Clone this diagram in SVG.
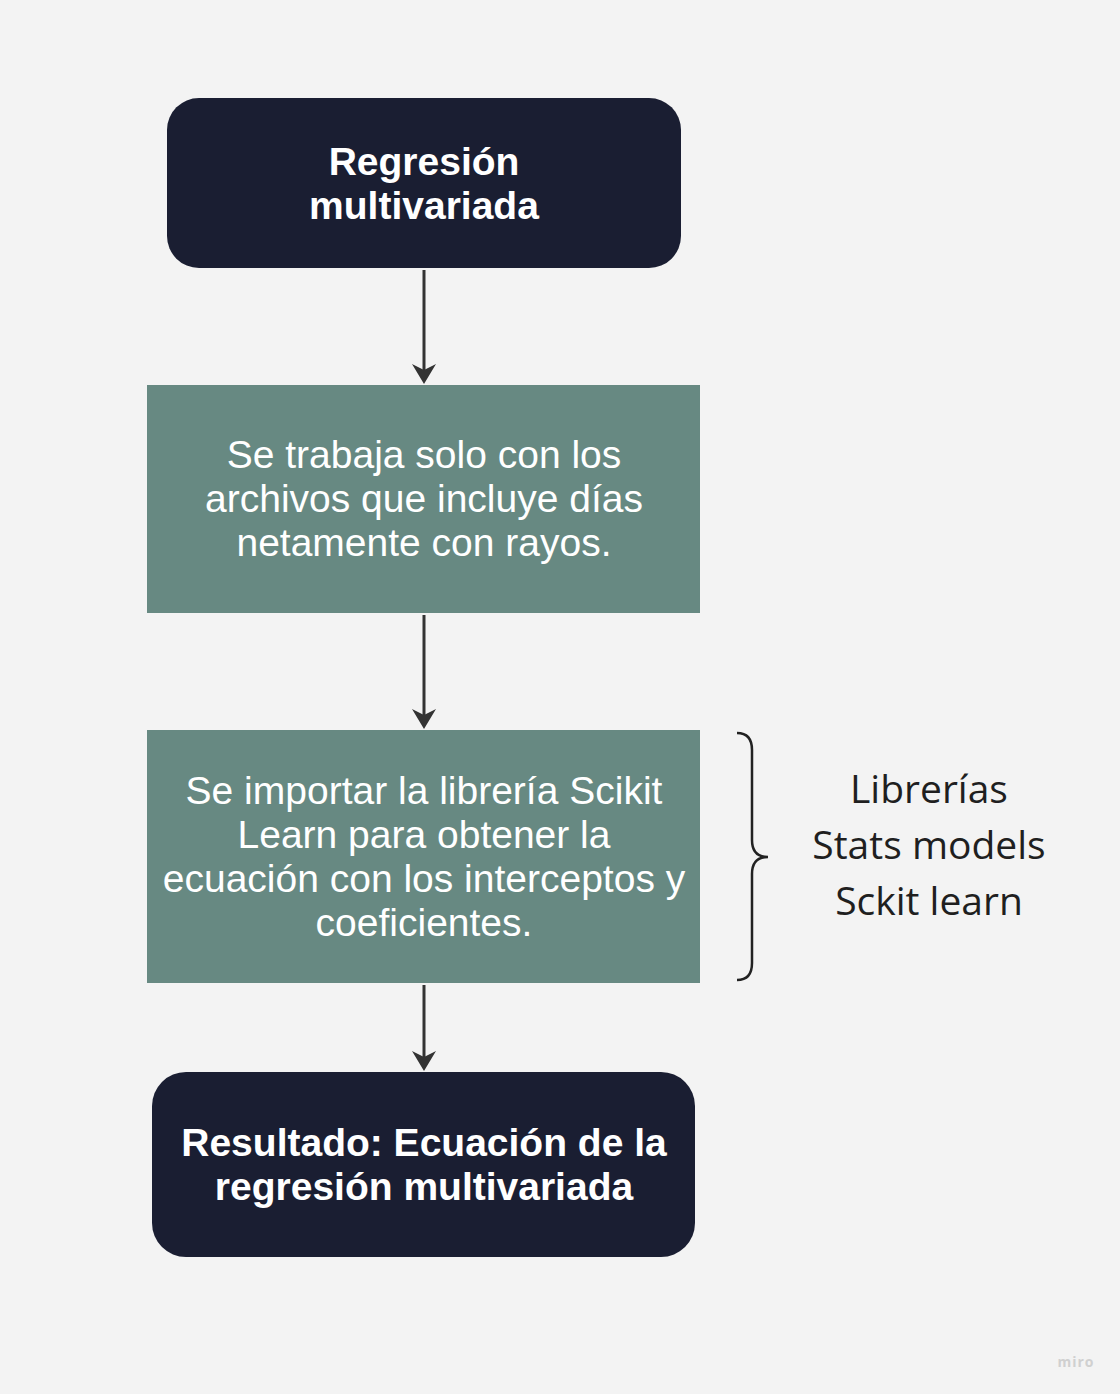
<svg xmlns="http://www.w3.org/2000/svg" width="1120" height="1394" viewBox="0 0 1120 1394">
<style>
.dark{fill:#1a1e32}
.green{fill:#678982}
.tb{font-family:"Liberation Sans",Arial,sans-serif;font-weight:bold;font-size:39px;fill:#ffffff;text-anchor:middle}
.tr{font-family:"Liberation Sans",Arial,sans-serif;font-size:39px;fill:#ffffff;text-anchor:middle}
.side{font-family:"Open Sans",sans-serif;font-size:39px;fill:#1f1f1f;text-anchor:middle}
.conn{stroke:#333333;stroke-width:3;fill:none}
.head{fill:#333333}
</style>
<rect width="1120" height="1394" fill="#f3f3f3"/>
<g id="connectors">
<line class="conn" x1="424" y1="270" x2="424" y2="370"/>
<path class="head" d="M412,364 L424,370 L436,364 L424,384 Z"/>
<line class="conn" x1="424" y1="615" x2="424" y2="715"/>
<path class="head" d="M412,709 L424,715 L436,709 L424,729 Z"/>
<line class="conn" x1="424" y1="985" x2="424" y2="1057"/>
<path class="head" d="M412,1051 L424,1057 L436,1051 L424,1071 Z"/>
</g>
<g id="node1">
<rect class="dark" x="167" y="98" width="514" height="170" rx="32"/>
<text class="tb" x="424" y="175">Regresión</text>
<text class="tb" x="424" y="219">multivariada</text>
</g>
<g id="node2">
<rect class="green" x="147" y="385" width="553" height="228"/>
<text class="tr" x="424" y="468">Se trabaja solo con los</text>
<text class="tr" x="424" y="512">archivos que incluye días</text>
<text class="tr" x="424" y="556">netamente con rayos.</text>
</g>
<g id="node3">
<rect class="green" x="147" y="730" width="553" height="253"/>
<text class="tr" x="424" y="804">Se importar la librería Scikit</text>
<text class="tr" x="424" y="848">Learn para obtener la</text>
<text class="tr" x="424" y="892">ecuación con los interceptos y</text>
<text class="tr" x="424" y="936">coeficientes.</text>
</g>
<g id="node4">
<rect class="dark" x="152" y="1072" width="543" height="185" rx="34"/>
<text class="tb" x="424" y="1156">Resultado: Ecuación de la</text>
<text class="tb" x="424" y="1200">regresión multivariada</text>
</g>
<g id="brace">
<path d="M737,733 Q752,733 752,750 L752,840 Q752,857 768,857 Q752,857 752,874 L752,963 Q752,980 737,980" fill="none" stroke="#222222" stroke-width="2.5"/>
</g>
<g id="libs">
<text class="side" x="929" y="803">Librerías</text>
<text class="side" x="929" y="859">Stats models</text>
<text class="side" x="929" y="915">Sckit learn</text>
</g>
<text x="1076" y="1367" font-family="Open Sans,sans-serif" font-size="14" font-weight="bold" fill="#d0d0d0" text-anchor="middle" letter-spacing="1">miro</text>
</svg>
